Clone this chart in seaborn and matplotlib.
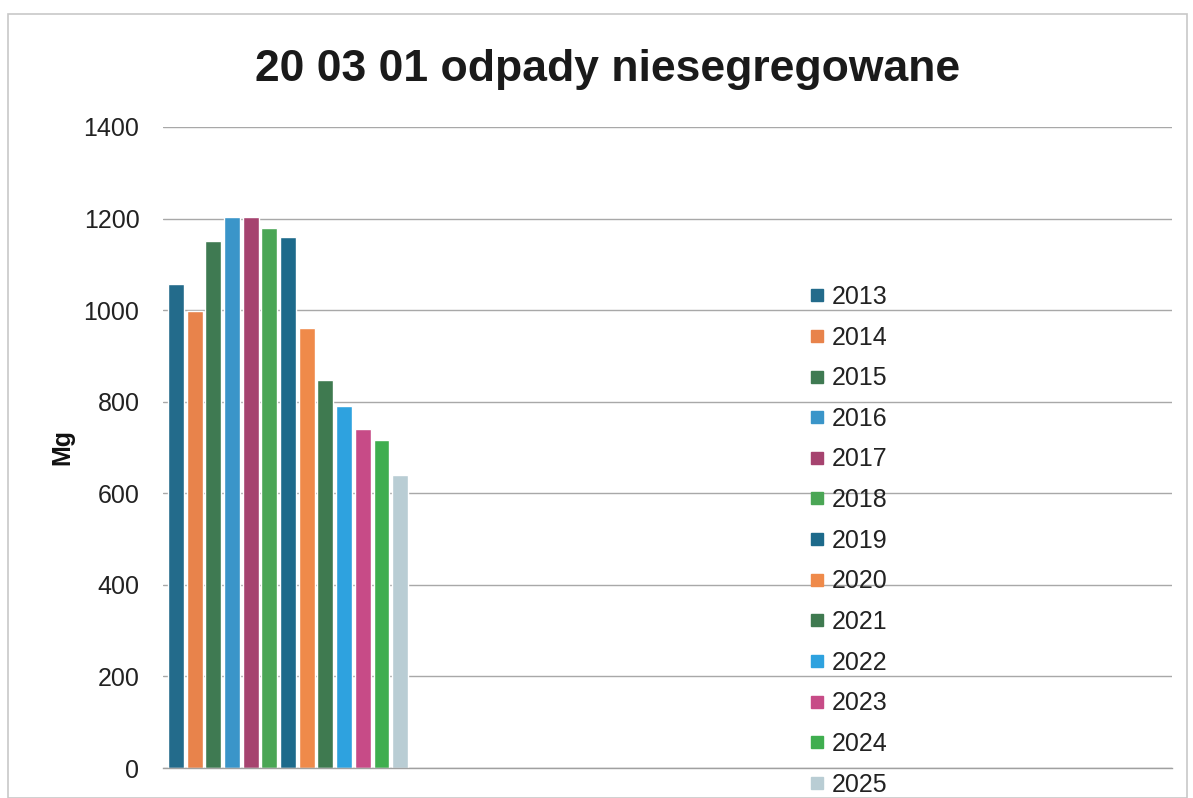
import matplotlib
matplotlib.use("Agg")
import matplotlib.pyplot as plt
import seaborn as sns
import pandas as pd
from matplotlib.patches import Rectangle
from matplotlib.lines import Line2D

years = ["2013", "2014", "2015", "2016", "2017", "2018", "2019",
         "2020", "2021", "2022", "2023", "2024", "2025"]
values = [1057, 999, 1150, 1204, 1204, 1179, 1160, 962, 848, 790, 740, 717, 639]
colors = ["#236b8b", "#e8834b", "#3f7a52", "#3a95c9", "#a6436f", "#4aa655",
          "#1d6a8b", "#ef8a4a", "#3f7a50", "#2ea2df", "#c74b87", "#3fae4f", "#b9cdd4"]
yticks = [0, 200, 400, 600, 800, 1000, 1200, 1400]
title = "20 03 01 odpady niesegregowane"
ylabel = "Mg"

sns.set_theme(style="white")
plt.rcParams['font.family'] = ['Liberation Sans', 'DejaVu Sans']

df = pd.DataFrame({"year": years, "value": values})

fig = plt.figure(figsize=(11.93, 7.98), dpi=100)
W, H = 1193, 798
ax = fig.add_axes([163 / W, 1 - 768 / H, (1172 - 163) / W, (768 - 127) / H])

sns.barplot(data=df, x="year", y="value", hue="year", order=years,
            palette=colors, width=0.85, legend=False, ax=ax, saturation=1)

ax.set_xlim(-0.69, 53.3)
ax.set_ylim(0, 1400)
ax.set_yticks(yticks)
ax.set_yticklabels([str(t) for t in yticks], fontsize=18, color="#222222")
ax.tick_params(axis="y", length=0, pad=17)
ax.set_xticks([])
ax.set_xlabel("")
ax.set_ylabel(ylabel, fontsize=18, fontweight="bold", color="#111111")
ax.yaxis.set_label_coords((74 - 163) / (1172 - 163), (768 - 447) / (768 - 127))
ax.yaxis.grid(True, color="#a8a8a8", linewidth=1.0)
ax.set_axisbelow(True)
for s in ["top", "right", "left"]:
    ax.spines[s].set_visible(False)
ax.spines["bottom"].set_color("#a0a0a0")
ax.spines["bottom"].set_linewidth(1.0)

fig.text(608 / W, 1 - 69 / H, title, ha="center", va="center",
         fontsize=32, fontweight="bold", color="#1a1a1a")

handles = [Line2D([0], [0], marker="s", linestyle="none", markersize=8,
                  markerfacecolor=c, markeredgecolor=c) for c in colors]
fig.legend(handles, years, loc="upper left", bbox_to_anchor=(807 / W, 1 - 285 / H),
           frameon=False, fontsize=18, labelspacing=0.665, handlelength=0.8,
           handletextpad=0.2, borderpad=0, borderaxespad=0, labelcolor="#222222")

fig.patches.append(Rectangle((8 / W, 0.0), 1 - 14 / W, 1 - 14 / H,
                             transform=fig.transFigure, fill=False,
                             edgecolor="#c8c8c8", linewidth=1.2))

fig.savefig("out.png", dpi=100, facecolor="white")
